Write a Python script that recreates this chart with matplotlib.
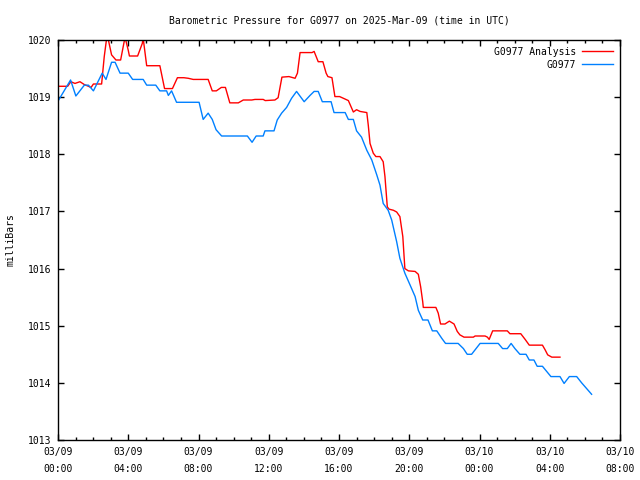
import matplotlib
matplotlib.use('Agg')
import matplotlib.pyplot as plt
import matplotlib.dates as mdates
import pandas as pd

# G0977 observed pressure (mb)
obs_times = ['03-09 00:00', '03-09 00:43', '03-09 01:01', '03-09 01:30', '03-09 01:44', '03-09 02:01',
             '03-09 02:31', '03-09 02:44', '03-09 03:03', '03-09 03:15', '03-09 03:32', '03-09 04:00',
             '03-09 04:15', '03-09 04:51', '03-09 05:03', '03-09 05:34', '03-09 05:48', '03-09 06:11',
             '03-09 06:17', '03-09 06:28', '03-09 06:45', '03-09 08:02', '03-09 08:16', '03-09 08:33',
             '03-09 08:47', '03-09 09:00', '03-09 09:19', '03-09 10:47', '03-09 11:03', '03-09 11:17',
             '03-09 11:41', '03-09 11:47', '03-09 12:18', '03-09 12:29', '03-09 12:44', '03-09 13:01',
             '03-09 13:18', '03-09 13:35', '03-09 14:01', '03-09 14:21', '03-09 14:35', '03-09 14:49',
             '03-09 15:03', '03-09 15:33', '03-09 15:43', '03-09 16:21', '03-09 16:32', '03-09 16:49',
             '03-09 17:00', '03-09 17:17', '03-09 17:35', '03-09 17:52', '03-09 18:09', '03-09 18:20',
             '03-09 18:31', '03-09 18:48', '03-09 19:00', '03-09 19:17', '03-09 19:28', '03-09 19:45',
             '03-09 20:03', '03-09 20:20', '03-09 20:31', '03-09 20:46', '03-09 21:04', '03-09 21:19',
             '03-09 21:34', '03-09 21:51', '03-09 22:04', '03-09 22:47', '03-09 23:05', '03-09 23:18',
             '03-09 23:33', '03-10 00:02', '03-10 01:04', '03-10 01:19', '03-10 01:35', '03-10 01:48',
             '03-10 02:01', '03-10 02:18', '03-10 02:39', '03-10 02:50', '03-10 03:06', '03-10 03:17',
             '03-10 03:35', '03-10 04:04', '03-10 04:35', '03-10 04:49', '03-10 05:07', '03-10 05:32',
             '03-10 05:49', '03-10 06:23']
obs_vals = [1018.93, 1019.30, 1019.02, 1019.21, 1019.21, 1019.11,
            1019.42, 1019.31, 1019.61, 1019.61, 1019.42, 1019.42,
            1019.31, 1019.31, 1019.21, 1019.21, 1019.11, 1019.11,
            1019.03, 1019.11, 1018.91, 1018.91, 1018.61, 1018.72,
            1018.61, 1018.43, 1018.32, 1018.32, 1018.21, 1018.32,
            1018.32, 1018.41, 1018.41, 1018.60, 1018.72, 1018.82,
            1018.98, 1019.10, 1018.92, 1019.03, 1019.10, 1019.10,
            1018.92, 1018.92, 1018.73, 1018.73, 1018.61, 1018.61,
            1018.41, 1018.30, 1018.07, 1017.90, 1017.64, 1017.46,
            1017.14, 1017.02, 1016.85, 1016.47, 1016.18, 1015.92,
            1015.71, 1015.51, 1015.27, 1015.10, 1015.10, 1014.91,
            1014.91, 1014.78, 1014.69, 1014.69, 1014.60, 1014.50,
            1014.50, 1014.69, 1014.69, 1014.60, 1014.60, 1014.69,
            1014.60, 1014.50, 1014.50, 1014.40, 1014.40, 1014.29,
            1014.29, 1014.11, 1014.11, 1013.99, 1014.11, 1014.11,
            1014.00, 1013.80]

# G0977 analysis pressure (mb)
ana_times = ['03-09 00:00', '03-09 00:33', '03-09 00:44', '03-09 00:58', '03-09 01:15', '03-09 01:30',
             '03-09 01:44', '03-09 01:53', '03-09 02:01', '03-09 02:29', '03-09 02:38', '03-09 02:48',
             '03-09 03:03', '03-09 03:18', '03-09 03:34', '03-09 03:49', '03-09 04:00', '03-09 04:04',
             '03-09 04:32', '03-09 04:48', '03-09 04:51', '03-09 05:03', '03-09 05:48', '03-09 05:52',
             '03-09 06:04', '03-09 06:31', '03-09 06:48', '03-09 07:10', '03-09 07:25', '03-09 07:42',
             '03-09 08:33', '03-09 08:47', '03-09 09:01', '03-09 09:18', '03-09 09:32', '03-09 09:47',
             '03-09 10:16', '03-09 10:33', '03-09 11:02', '03-09 11:13', '03-09 11:41', '03-09 11:48',
             '03-09 12:21', '03-09 12:32', '03-09 12:45', '03-09 13:09', '03-09 13:30', '03-09 13:38',
             '03-09 13:47', '03-09 14:28', '03-09 14:35', '03-09 14:49', '03-09 15:05', '03-09 15:16',
             '03-09 15:22', '03-09 15:36', '03-09 15:46', '03-09 16:02', '03-09 16:15', '03-09 16:32',
             '03-09 16:49', '03-09 17:00', '03-09 17:12', '03-09 17:35', '03-09 17:40', '03-09 17:46',
             '03-09 17:57', '03-09 18:06', '03-09 18:20', '03-09 18:31', '03-09 18:37', '03-09 18:45',
             '03-09 18:51', '03-09 19:06', '03-09 19:17', '03-09 19:28', '03-09 19:38', '03-09 19:45',
             '03-09 19:57', '03-09 20:20', '03-09 20:31', '03-09 20:39', '03-09 20:46', '03-09 20:48',
             '03-09 21:31', '03-09 21:39', '03-09 21:47', '03-09 22:02', '03-09 22:17', '03-09 22:33',
             '03-09 22:44', '03-09 22:53', '03-09 23:07', '03-09 23:39', '03-09 23:45', '03-10 00:19',
             '03-10 00:27', '03-10 00:33', '03-10 00:45', '03-10 01:35', '03-10 01:44', '03-10 02:21',
             '03-10 02:36', '03-10 02:50', '03-10 03:35', '03-10 03:44', '03-10 03:53', '03-10 04:07',
             '03-10 04:35']
ana_vals = [1019.19, 1019.19, 1019.27, 1019.24, 1019.27, 1019.22,
            1019.19, 1019.17, 1019.23, 1019.23, 1019.71, 1020.10,
            1019.74, 1019.65, 1019.65, 1020.05, 1019.82, 1019.72,
            1019.72, 1019.94, 1020.03, 1019.55, 1019.55, 1019.45,
            1019.15, 1019.15, 1019.34, 1019.34, 1019.33, 1019.31,
            1019.31, 1019.11, 1019.11, 1019.17, 1019.17, 1018.90,
            1018.90, 1018.95, 1018.95, 1018.96, 1018.96, 1018.94,
            1018.95, 1018.99, 1019.35, 1019.36, 1019.33, 1019.42,
            1019.78, 1019.78, 1019.80, 1019.62, 1019.62, 1019.42,
            1019.36, 1019.34, 1019.01, 1019.01, 1018.98, 1018.94,
            1018.74, 1018.78, 1018.75, 1018.73, 1018.51, 1018.19,
            1018.02, 1017.96, 1017.96, 1017.87, 1017.61, 1017.08,
            1017.04, 1017.02, 1016.99, 1016.91, 1016.56, 1016.00,
            1015.96, 1015.95, 1015.90, 1015.68, 1015.42, 1015.32,
            1015.32, 1015.22, 1015.03, 1015.03, 1015.08, 1015.03,
            1014.90, 1014.84, 1014.80, 1014.80, 1014.82, 1014.82,
            1014.80, 1014.76, 1014.91, 1014.91, 1014.86, 1014.86,
            1014.76, 1014.66, 1014.66, 1014.58, 1014.49, 1014.45,
            1014.45]

obs_t = pd.to_datetime(['2025-' + s for s in obs_times], format='%Y-%m-%d %H:%M')
ana_t = pd.to_datetime(['2025-' + s for s in ana_times], format='%Y-%m-%d %H:%M')

plt.rcParams['font.family'] = 'DejaVu Sans Mono'
plt.rcParams['font.size'] = 7

fig = plt.figure(figsize=(6.4, 4.8), dpi=100)
ax = fig.add_axes([58 / 640, 40 / 480, 562 / 640, 400 / 480])

ax.plot(ana_t, ana_vals, color='#ff0000', lw=1, label='G0977 Analysis')
ax.plot(obs_t, obs_vals, color='#0080ff', lw=1, label='G0977')

ax.set_xlim(pd.Timestamp('2025-03-09 00:00'), pd.Timestamp('2025-03-10 08:00'))
ax.set_ylim(1013, 1020)
ax.set_yticks(range(1013, 1021))

ax.xaxis.set_major_locator(mdates.HourLocator(byhour=[0, 4, 8, 12, 16, 20]))
ax.xaxis.set_minor_locator(mdates.HourLocator())
ax.xaxis.set_major_formatter(mdates.DateFormatter('%m/%d\n%H:%M'))

ax.tick_params(which='both', direction='in', top=True, right=True, labelsize=7)
ax.tick_params(which='major', length=4.5, width=1, pad=5)
ax.tick_params(which='minor', length=2.2, width=1)
for lbl in ax.get_xticklabels():
    lbl.set_linespacing(1.9)
for s in ax.spines.values():
    s.set_linewidth(1)

ax.set_title('Barometric Pressure for G0977 on 2025-Mar-09 (time in UTC)', fontsize=7, pad=12)
ax.set_ylabel('milliBars', fontsize=7, labelpad=9)

ax.legend(loc='upper right', frameon=False, markerfirst=False, fontsize=7,
          handlelength=3.2, borderaxespad=0.3, labelspacing=0.3, handletextpad=0.6)

fig.savefig('out.png', dpi=100)
